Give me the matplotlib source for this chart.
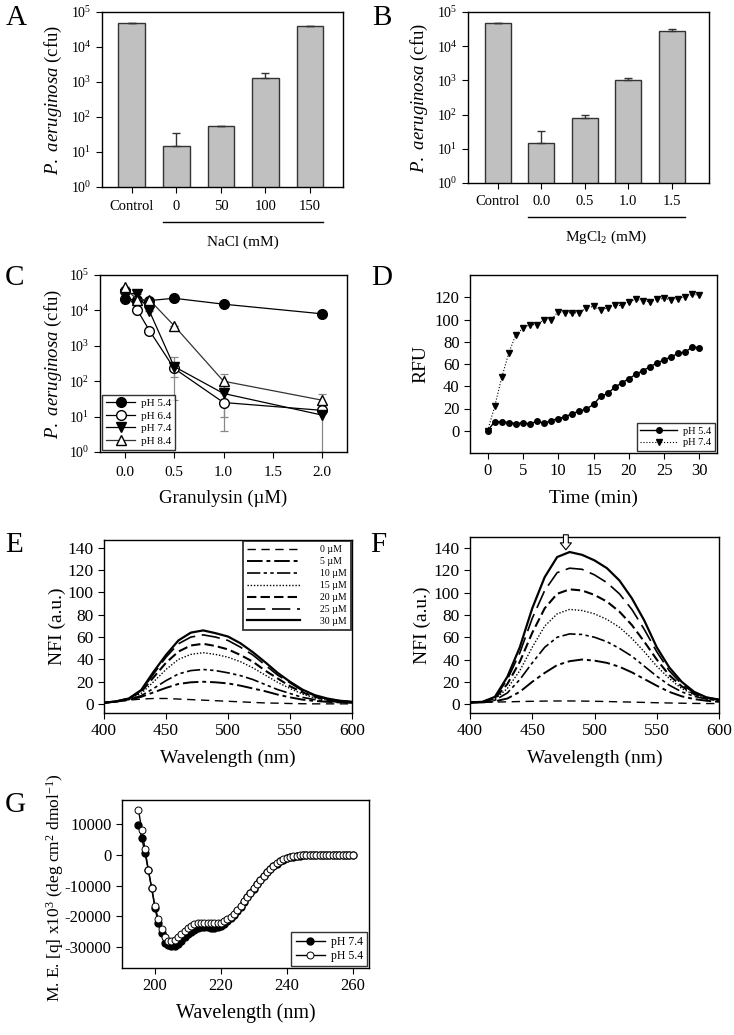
import numpy as np
import matplotlib
matplotlib.use('Agg')
import matplotlib.pyplot as plt
from matplotlib.ticker import LogLocator, NullLocator, MultipleLocator
import matplotlib.transforms as mtransforms

# ---------------- DATA ----------------
# Panel A (NaCl)
a_labels = ['Control', '0', '50', '100', '150']
a_vals = [4.9e4, 14.8, 55, 1290, 4.0e4]
a_err = [0, 20, 0, 510, 0]
# Panel B (MgCl2)
b_labels = ['Control', '0.0', '0.5', '1.0', '1.5']
b_vals = [4.8e4, 14.8, 79, 1020, 2.8e4]
b_err = [0, 18, 19, 150, 4000]
# Panel C (Granulysin at various pH)
c_conc = [0.0, 0.125, 0.25, 0.5, 1.0, 2.0]
c_ph54 = [2.1e4, 2.0e4, 1.9e4, 2.2e4, 1.5e4, 8.0e3]
c_ph64 = [3.5e4, 1.05e4, 2.7e3, 230, 25, 15]
c_ph74 = [3.0e4, 3.0e4, 9.6e3, 260, 45, 11]
c_ph84 = [4.5e4, 2.0e4, 2.0e4, 3.7e3, 100, 29]
c_err64 = [0, 0, 0, 100, 21, 0]
c_err74 = [0, 0, 0, 230, 35, 10]
c_err84 = [0, 0, 0, 0, 55, 15]
# Panel D (RFU vs time)
d_time = list(range(31))
d_ph54 = [0, 8.3, 8, 7.4, 6.5, 7, 6.2, 8.6, 6.8, 9.2, 11, 12.7, 15.4, 17.8, 19.6, 23.7,
          30.8, 33.5, 39, 43, 46.8, 50.7, 54, 57.5, 61, 63.7, 66.4, 69.6, 70.8, 75.3, 74.7]
d_ph74 = [0, 22, 48, 70, 86.5, 92, 95.4, 95.4, 100, 100, 107, 106, 106, 106, 110.5, 111.7,
          108.7, 110.5, 112.6, 112.6, 116, 118, 117, 116, 118, 119, 117.6, 118.8, 120.6, 122.7, 121.8]
# Panel E / F spectra (wavelength every 10 nm)
wl = list(range(400, 601, 10))
conc_labels = ['0 \u00b5M', '5 \u00b5M', '10 \u00b5M', '15 \u00b5M', '20 \u00b5M', '25 \u00b5M', '30 \u00b5M']
e_0 = [1.2, 2.2, 3.5, 4.5, 5, 5, 4.5, 4, 3.5, 3, 2.5, 2, 1.5, 1, 0.8, 0.5, 0.3, 0.2, 0.2, 0.2, 0.2]
e_5 = [1.2, 2.2, 3.8, 6.5, 10.5, 14.5, 18, 19.5, 20, 19.5, 18.5, 16.5, 14, 11.5, 8.5, 6, 4, 2.8, 2, 1.5, 1.2]
e_10 = [1.2, 2.3, 4, 7.5, 14, 21, 27, 30, 31, 30, 28, 25.5, 22, 17.5, 13, 9.5, 6, 4, 2.5, 1.8, 1.4]
e_15 = [1.2, 2.4, 4.5, 9.5, 20, 31, 40, 44.5, 46, 44.5, 42, 38, 32.5, 26, 19.5, 14, 9, 5.5, 3.5, 2.2, 1.6]
e_20 = [1.2, 2.4, 5, 11, 24, 37, 47, 52.5, 54, 52, 49, 44, 38, 30, 23, 16, 10.5, 6.5, 4, 2.5, 1.8]
e_25 = [1.2, 2.4, 5, 12, 27, 42, 54, 60, 62, 60, 57, 51, 44, 35, 26, 19, 12, 7.5, 4.5, 3, 2]
e_30 = [1.2, 2.4, 5, 12.6, 29, 44, 57, 64, 66, 63.5, 60.5, 54.5, 46.5, 37.5, 28, 20, 13, 8, 5, 3, 2]
f_0 = [1.5, 1.5, 1.8, 2, 2.3, 2.5, 2.7, 2.8, 2.8, 2.7, 2.5, 2.3, 2, 1.8, 1.5, 1.2, 1, 0.8, 0.6, 0.5, 0.5]
f_5 = [1.5, 1.5, 2.5, 5, 11, 20, 28, 35, 38.5, 40, 39, 37, 33.5, 28.5, 22.5, 16.5, 11, 7, 4.5, 3, 2]
f_10 = [1.5, 2, 3.5, 10, 22, 37, 51, 60, 63, 62.5, 60, 56, 50, 43, 34, 25, 17, 11, 7, 4.5, 3]
f_15 = [1.5, 2, 4.5, 14, 30, 51, 70, 81, 85, 84, 81, 76, 69, 59, 47, 34, 23, 14, 8.5, 5, 3.5]
f_20 = [1.5, 2, 5, 18, 38, 64, 86, 99, 103, 102, 98, 92, 83, 71, 56, 40, 26, 16, 9, 5.5, 3.5]
f_25 = [1.5, 2, 6, 22, 46, 77, 102, 118, 122, 121, 116, 109, 99, 85, 67, 47, 30, 18, 10, 6, 4]
f_30 = [1.5, 2, 6.5, 24.5, 51, 86, 114, 132, 136.5, 134, 129, 122, 111, 95, 75, 51, 33, 20, 11, 6, 4]
f_peak_wl = 477
# Panel G (CD spectra)
g_wl = list(range(195, 261))
g_ph74 = [9800, 5500, 500, -5000, -10900, -17200, -22300, -25700, -28700, -29500, -29800, -29700,
          -29000, -28000, -27000, -26000, -25100, -24400, -24000, -23700, -23600, -23700, -23800,
          -23800, -23600, -23200, -22500, -21700, -20700, -19600, -18300, -16900, -15400, -13900,
          -12400, -11000, -9600, -8200, -6900, -5700, -4600, -3700, -2800, -2100, -1500, -1100,
          -700, -500, -300, -200, -100, 0, 0, 0, 0, 0, 0, 0, 0, 0, 0, 0, 0, 0, 0, 0]
g_ph54 = [14800, 8300, 1800, -4900, -10700, -16700, -21000, -24300, -26700, -28000, -28300, -27800,
          -26900, -25900, -24900, -24000, -23200, -22700, -22300, -22200, -22200, -22200, -22300,
          -22400, -22400, -22200, -21700, -21000, -20200, -19200, -18000, -16700, -15200, -13800,
          -12300, -10900, -9500, -8100, -6800, -5600, -4500, -3600, -2700, -2000, -1400, -1000,
          -600, -400, -200, -100, 0, 100, 100, 100, 100, 100, 100, 0, -100, 0, 0, 0, 0, 0, 0, 0]

# ---------------- STYLE ----------------
plt.rcParams.update({
    'font.family': ['Liberation Serif', 'DejaVu Serif'],
    'mathtext.fontset': 'custom',
    'mathtext.rm': 'Liberation Serif',
    'mathtext.it': 'Liberation Serif:italic',
    'mathtext.bf': 'Liberation Serif:bold',
    'axes.unicode_minus': False,
    'xtick.direction': 'out', 'ytick.direction': 'out',
    'xtick.major.size': 4, 'ytick.major.size': 4,
    'axes.linewidth': 1.0,
})

W, H = 734, 1035
fig = plt.figure(figsize=(W / 100, H / 100), dpi=100)


def add(l, t, r, b):
    return fig.add_axes([l / W, 1 - b / H, (r - l) / W, (b - t) / H])


def letter(x, y, s):
    fig.text(x / W, 1 - y / H, s, ha='center', va='baseline', fontsize=21)


ylab_cfu = r'$\it{P.}$ $\it{aeruginosa}$ (cfu)'


def log_axis(ax):
    ax.set_yscale('log')
    ax.set_ylim(1, 1e5)
    ax.yaxis.set_major_locator(LogLocator(base=10, numticks=10))
    ax.yaxis.set_minor_locator(NullLocator())


def set_ylab(ax, text, x, size, y=0.5):
    ax.set_ylabel(text, fontsize=size)
    ax.yaxis.set_label_coords(x, y)
    ax.yaxis.label.set_va('center')


def set_xlab(ax, text, y, size):
    ax.set_xlabel(text, fontsize=size)
    ax.xaxis.set_label_coords(0.5, y)
    ax.xaxis.label.set_va('center')


def bar_panel(ax, labels, vals, errs, bracket_label):
    x = np.arange(len(vals))
    log_axis(ax)
    ax.bar(x, vals, width=0.6, color='#c0c0c0', edgecolor='#333333', linewidth=1.0,
           yerr=[np.zeros(len(errs)), errs],
           error_kw=dict(ecolor='#333333', capsize=3, elinewidth=1.0, capthick=1.0))
    ax.set_xticks(x)
    ax.set_xticklabels(labels, fontsize=10.5)
    ax.tick_params(axis='x', pad=5)
    ax.tick_params(axis='y', labelsize=10)
    set_ylab(ax, ylab_cfu, -0.2, 13.5)
    tr = mtransforms.blended_transform_factory(ax.transData, ax.transAxes)
    ax.plot([x[1] - 0.3, x[-1] + 0.3], [-0.2, -0.2], color='k', lw=1.0, transform=tr, clip_on=False)
    ax.text((x[1] + x[-1]) / 2, -0.315, bracket_label, transform=tr, ha='center', va='center', fontsize=11)


# Panel A
axA = add(102, 12, 343, 187)
bar_panel(axA, a_labels, a_vals, a_err, 'NaCl (mM)')
axA.set_xlim(-0.67, 4.74)
letter(16, 25, 'A')

# Panel B
axB = add(468, 12, 709, 183)
bar_panel(axB, b_labels, b_vals, b_err, r'MgCl$_2$ (mM)')
axB.set_xlim(-0.68, 4.85)
letter(382, 25, 'B')

# Panel C
axC = add(100, 275, 347, 452)
log_axis(axC)
ekw = dict(ecolor='#888888', elinewidth=0.9, capsize=3, capthick=0.9)
axC.errorbar(c_conc, c_ph64, yerr=c_err64, fmt='none', **ekw)
axC.errorbar(c_conc, c_ph74, yerr=c_err74, fmt='none', **ekw)
axC.errorbar(c_conc, c_ph84, yerr=c_err84, fmt='none', **ekw)
axC.plot(c_conc, c_ph54, '-o', color='k', mfc='k', mec='k', ms=7, lw=0.9, label='pH 5.4')
axC.plot(c_conc, c_ph64, '-o', color='k', mfc='white', mec='k', ms=7, lw=0.9, label='pH 6.4')
axC.plot(c_conc, c_ph74, '-v', color='k', mfc='k', mec='k', ms=7, lw=0.9, label='pH 7.4')
axC.plot(c_conc, c_ph84, '-^', color='#333333', mfc='white', mec='k', ms=7, lw=0.9, label='pH 8.4')
axC.set_xlim(-0.25, 2.25)
axC.xaxis.set_major_locator(MultipleLocator(0.5))
axC.xaxis.set_major_formatter(matplotlib.ticker.FormatStrFormatter('%.1f'))
axC.tick_params(axis='x', labelsize=11, pad=6)
axC.tick_params(axis='y', labelsize=10)
set_ylab(axC, ylab_cfu, -0.19, 13.5)
set_xlab(axC, 'Granulysin (\u00b5M)', -0.26, 13.5)
legC = axC.legend(loc='lower left', fontsize=8, frameon=True, fancybox=False, edgecolor='k',
                  handlelength=2.6, borderaxespad=0.2, labelspacing=0.25, handletextpad=0.5,
                  borderpad=0.35)
legC.get_frame().set_linewidth(1.0)
letter(14, 285, 'C')

# Panel D
axD = add(470, 275, 717, 453)
axD.plot(d_time, d_ph54, '-o', color='k', ms=4, lw=1.0, label='pH 5.4')
axD.plot(d_time, d_ph74, ':v', color='k', ms=4.5, lw=0.8, label='pH 7.4')
axD.set_xlim(-2.5, 32.5)
axD.set_ylim(-20, 140)
axD.set_yticks(range(0, 121, 20))
axD.set_xticks(range(0, 31, 5))
axD.tick_params(labelsize=12)
set_ylab(axD, 'RFU', -0.2, 14)
set_xlab(axD, 'Time (min)', -0.255, 14)
legD = axD.legend(loc='lower right', fontsize=7.5, frameon=True, fancybox=False, edgecolor='k',
                  handlelength=3.5, borderaxespad=0.2, labelspacing=0.2, handletextpad=0.6,
                  borderpad=0.35)
legD.get_frame().set_linewidth(1.0)
letter(382, 285, 'D')

# Panels E and F
styles = [
    dict(ls=(0, (6, 4)), lw=1.0),
    dict(ls=(0, (8, 2, 2, 2)), lw=1.4),
    dict(ls=(0, (8, 2, 2, 2, 2, 2)), lw=1.2),
    dict(ls=(0, (1, 1.3)), lw=1.0),
    dict(ls=(0, (4.5, 2)), lw=1.5),
    dict(ls=(0, (11, 4)), lw=1.2),
    dict(ls='-', lw=1.6),
]


def spectra(ax, series):
    for s, st, lab in zip(series, styles, conc_labels):
        ax.plot(wl, s, color='k', label=lab, **st)
    ax.set_xlim(400, 600)
    ax.set_xticks(range(400, 601, 50))
    ax.set_yticks(range(0, 141, 20))
    ax.tick_params(labelsize=12.5)
    set_ylab(ax, 'NFI (a.u.)', -0.19, 14)
    set_xlab(ax, 'Wavelength (nm)', -0.26, 14)


axE = add(104, 540, 352, 713)
spectra(axE, [e_0, e_5, e_10, e_15, e_20, e_25, e_30])
axE.set_ylim(-8, 147)
legE = axE.legend(loc='upper right', fontsize=7, frameon=True, fancybox=False, edgecolor='k',
                  handlelength=5.5, borderaxespad=0.15, labelspacing=0.3, handletextpad=2.0,
                  borderpad=0.4)
legE.get_frame().set_linewidth(1.3)
letter(14, 552, 'E')

axF = add(470, 537, 719, 713)
spectra(axF, [f_0, f_5, f_10, f_15, f_20, f_25, f_30])
axF.set_ylim(-8, 150)
axF.annotate('', xy=(f_peak_wl, 138.5), xytext=(f_peak_wl, 152),
             arrowprops=dict(arrowstyle='simple,head_width=0.8,head_length=0.5,tail_width=0.35',
                             fc='white', ec='black', lw=0.8, shrinkA=0, shrinkB=0),
             annotation_clip=False)
letter(378, 552, 'F')

# Panel G
axG = add(122, 800, 369, 968)
axG.plot(g_wl, g_ph74, '-o', color='k', mfc='k', mec='k', ms=5, lw=1.0, label='pH 7.4')
axG.plot(g_wl, g_ph54, '-o', color='k', mfc='white', mec='k', ms=5, mew=0.7, lw=1.0, label='pH 5.4')
axG.set_xlim(190, 265)
axG.set_ylim(-37000, 18000)
axG.set_xticks(range(200, 261, 20))
axG.set_yticks(range(-30000, 10001, 10000))
axG.tick_params(labelsize=12)
set_ylab(axG, r'M. E. [q] x10$^3$ (deg cm$^2$ dmol$^{-1}$)', -0.27, 12.5, y=0.48)
set_xlab(axG, 'Wavelength (nm)', -0.27, 14.5)
legG = axG.legend(loc='lower right', fontsize=8.5, frameon=True, fancybox=False, edgecolor='k',
                  handlelength=2.5, borderaxespad=0.15, labelspacing=0.2, handletextpad=0.5,
                  borderpad=0.35)
legG.get_frame().set_linewidth(1.0)
letter(15, 812, 'G')

fig.savefig('out.png', dpi=100)
